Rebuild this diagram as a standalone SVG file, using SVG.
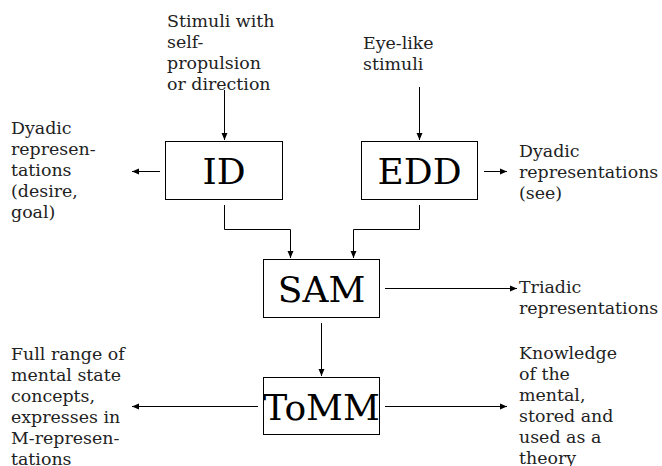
<svg xmlns="http://www.w3.org/2000/svg" width="662" height="466" viewBox="0 0 662 466">
<style>
.box{fill:#fff;stroke:#000;stroke-width:1}
.big{font-family:"DejaVu Serif",serif;font-size:36px;fill:#000;text-anchor:middle}
.lbl{font-family:"DejaVu Serif",serif;font-size:17.4px;fill:#222}
.c{fill:none;stroke:#000;stroke-width:1}
</style>
<defs>
<marker id="ah" markerWidth="8" markerHeight="8" refX="7" refY="4" orient="auto" markerUnits="userSpaceOnUse">
<path d="M0,1 L7,4 L0,7 Z" fill="#000"/>
</marker>
</defs>
<rect width="662" height="466" fill="#fff"/>
<g id="connectors">
<path class="c" d="M224.5,90 V140" marker-end="url(#ah)"/>
<path class="c" d="M419.5,87 V140" marker-end="url(#ah)"/>
<path class="c" d="M160,171.5 H132" marker-end="url(#ah)"/>
<path class="c" d="M484,171.5 H507" marker-end="url(#ah)"/>
<path class="c" d="M224.5,205 V229.5 H290.5 V258" marker-end="url(#ah)"/>
<path class="c" d="M419.5,205 V229.5 H353.5 V258" marker-end="url(#ah)"/>
<path class="c" d="M321.5,323 V376" marker-end="url(#ah)"/>
<path class="c" d="M385,288.5 H517" marker-end="url(#ah)"/>
<path class="c" d="M258,406.5 H132" marker-end="url(#ah)"/>
<path class="c" d="M385,406.5 H507" marker-end="url(#ah)"/>
</g>
<g id="ID"><rect class="box" x="165.5" y="141.5" width="117" height="58"/><text class="big" x="224" y="184">ID</text></g>
<g id="EDD"><rect class="box" x="361.5" y="141.5" width="116" height="58"/><text class="big" x="419.5" y="184">EDD</text></g>
<g id="SAM"><rect class="box" x="263.5" y="259.5" width="116" height="58"/><text class="big" x="321.5" y="302">SAM</text></g>
<g id="ToMM"><rect class="box" x="263.5" y="377.5" width="116" height="57"/><text class="big" x="321.5" y="420">ToMM</text></g>
<g id="label-stimuli"><text class="lbl" font-family="DejaVu Serif, serif"><tspan x="167" y="27">Stimuli with</tspan><tspan x="167" y="48">self-</tspan><tspan x="167" y="69">propulsion</tspan><tspan x="167" y="90">or direction</tspan></text></g>
<g id="label-eye"><text class="lbl" font-family="DejaVu Serif, serif"><tspan x="363" y="49">Eye-like</tspan><tspan x="363" y="70">stimuli</tspan></text></g>
<g id="label-dyadic-left"><text class="lbl" font-family="DejaVu Serif, serif"><tspan x="11" y="134">Dyadic</tspan><tspan x="11" y="155">represen-</tspan><tspan x="11" y="176">tations</tspan><tspan x="11" y="197">(desire,</tspan><tspan x="11" y="218">goal)</tspan></text></g>
<g id="label-dyadic-right"><text class="lbl" font-family="DejaVu Serif, serif"><tspan x="519" y="157">Dyadic</tspan><tspan x="519" y="178">representations</tspan><tspan x="519" y="199">(see)</tspan></text></g>
<g id="label-triadic"><text class="lbl" font-family="DejaVu Serif, serif"><tspan x="519" y="293">Triadic</tspan><tspan x="519" y="314">representations</tspan></text></g>
<g id="label-full"><text class="lbl" font-family="DejaVu Serif, serif"><tspan x="11" y="360">Full range of</tspan><tspan x="11" y="381">mental state</tspan><tspan x="11" y="402">concepts,</tspan><tspan x="11" y="423">expresses in</tspan><tspan x="11" y="444">M-represen-</tspan><tspan x="11" y="465">tations</tspan></text></g>
<g id="label-knowledge"><text class="lbl" font-family="DejaVu Serif, serif"><tspan x="519" y="359">Knowledge</tspan><tspan x="519" y="380">of the</tspan><tspan x="519" y="401">mental,</tspan><tspan x="519" y="422">stored and</tspan><tspan x="519" y="443">used as a</tspan><tspan x="519" y="464">theory</tspan></text></g>
</svg>
